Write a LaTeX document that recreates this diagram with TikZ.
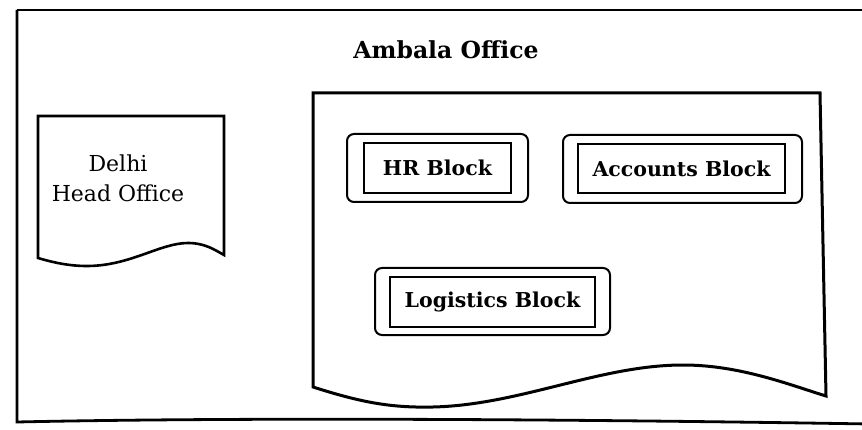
\documentclass[tikz,border=0pt]{standalone}
\usepackage{fontspec}
\setmainfont{DejaVu Serif}
\begin{document}
\begin{tikzpicture}[x=1pt,y=-1pt,
  frame/.style={line width=2.8pt,line join=miter},
  office/.style={line width=3pt,line join=miter},
  outerblk/.style={draw,line width=2pt,rounded corners=7pt},
  innerblk/.style={draw,line width=1.8pt},
  lbl/.style={font=\fontsize{20.5}{24}\selectfont\bfseries,inner sep=0pt}]
\useasboundingbox (0,0) rectangle (862,430);
% outer frame
\draw[frame] (17,10) -- (870,10);
\draw[frame] (17,10) -- (17,422) .. controls (200,418) and (500,418) .. (870,424);
% Ambala office title
\node[font=\fontsize{23.5}{27}\selectfont\bfseries,inner sep=0pt] (ambala) at (446,50) {Ambala Office};
% Ambala office block (document shape)
\draw[office] (820,93) -- (313,93) -- (313,387)
  .. controls (360,402) and (390,408) .. (433,407)
  .. controls (520,405) and (600,365) .. (683,365)
  .. controls (740,365) and (790,385) .. (826,396) -- cycle;
% Delhi head office (document shape)
\draw[office,line width=2.6pt] (224,116) -- (38,116) -- (38,258)
  .. controls (55,263) and (70,266) .. (87,266)
  .. controls (130,266) and (160,243) .. (188,243)
  .. controls (205,243) and (215,250) .. (224,255) -- cycle;
\node[font=\fontsize{22}{30}\selectfont,align=center,inner sep=0pt] (delhi) at (118,178) {Delhi\\Head Office};
% blocks
\node[innerblk,minimum width=147pt,minimum height=50pt] (hrin) at (437.5,168) {};
\node[outerblk,minimum width=181pt,minimum height=68pt] (hrout) at (437.5,168) {};
\node[lbl] (hr) at (hrin) {HR Block};
\node[innerblk,minimum width=207pt,minimum height=49pt] (accin) at (681.5,168.5) {};
\node[outerblk,minimum width=239pt,minimum height=68pt] (accout) at (682.5,169) {};
\node[lbl] (acc) at (accin) {Accounts Block};
\node[innerblk,minimum width=205pt,minimum height=50pt] (login) at (492.5,302) {};
\node[outerblk,minimum width=235pt,minimum height=67pt] (logout) at (492.5,301.5) {};
\node[lbl] (log) at (login) {Logistics Block};
\end{tikzpicture}
\end{document}
